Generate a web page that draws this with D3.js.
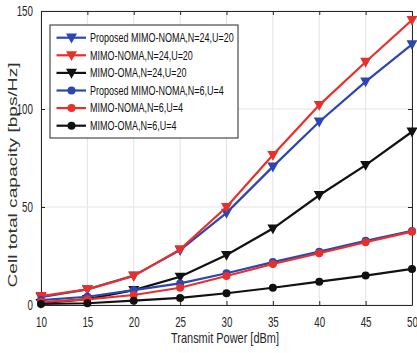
<!DOCTYPE html>
<html>
<head>
<meta charset="utf-8">
<script src="https://cdn.jsdelivr.net/npm/d3@7"></script>
<style>
  body { margin: 0; background: #fff; }
  svg { display: block; }
</style>
</head>
<body>
<div class="container"></div>
<script>
const w = 417;
const h = 353;
const margin = {left: 41, right: 5, top: 11, bottom: 48};

// data
const power = [10, 15, 20, 25, 30, 35, 40, 45, 50];
const propNoma24 = [4, 8, 15, 28, 47, 70.6, 93.5, 114, 133];
const noma24 = [4.5, 8, 14.8, 28.4, 50, 76.5, 102, 124, 145.4];
const oma24 = [1, 3, 7.6, 14.4, 25.5, 39, 56, 71.4, 88.4];
const propNoma6 = [2.5, 4.2, 7.6, 11, 16.2, 21.9, 27.2, 32.8, 37.8];
const noma6 = [1.5, 2.9, 5.1, 8.8, 14.8, 20.9, 26.4, 32, 37.4];
const oma6 = [0.5, 0.9, 2.2, 3.6, 6, 8.8, 11.9, 15, 18.4];
const xTicks = [10, 15, 20, 25, 30, 35, 40, 45, 50];
const yTicks = [0, 50, 100, 150];

const series = [
  {name: "Proposed MIMO-NOMA,N=24,U=20", values: propNoma24, color: "#2b46b4", marker: "tri"},
  {name: "MIMO-NOMA,N=24,U=20", values: noma24, color: "#e8302a", marker: "tri"},
  {name: "MIMO-OMA,N=24,U=20", values: oma24, color: "#111111", marker: "tri"},
  {name: "Proposed MIMO-NOMA,N=6,U=4", values: propNoma6, color: "#2b46b4", marker: "circle"},
  {name: "MIMO-NOMA,N=6,U=4", values: noma6, color: "#e8302a", marker: "circle"},
  {name: "MIMO-OMA,N=6,U=4", values: oma6, color: "#111111", marker: "circle"}
];

// no narrow font installed: squeeze Liberation Sans horizontally
const font = "'Liberation Sans', Arial, sans-serif";
const squeeze = 0.7;

const svg = d3.select(".container")
  .append("svg")
  .attr("width", w)
  .attr("height", h);

const xScale = d3.scaleLinear()
  .domain([10, 50])
  .range([margin.left, w - margin.right]);

const yScale = d3.scaleLinear()
  .domain([0, 150])
  .range([h - margin.bottom, margin.top]);

const x0 = margin.left, x1 = w - margin.right;
const y0 = h - margin.bottom, y1 = margin.top;

// grid
svg.append("g").selectAll("line")
  .data(xTicks)
  .enter().append("line")
  .attr("x1", d => xScale(d)).attr("x2", d => xScale(d))
  .attr("y1", y0).attr("y2", y1)
  .attr("stroke", "#e3e3e3").attr("stroke-width", 1);
svg.append("g").selectAll("line")
  .data(yTicks)
  .enter().append("line")
  .attr("x1", x0).attr("x2", x1)
  .attr("y1", d => yScale(d)).attr("y2", d => yScale(d))
  .attr("stroke", "#e3e3e3").attr("stroke-width", 1);

// axes
const xAxis = d3.axisBottom(xScale).tickValues(xTicks).tickSizeInner(-4).tickSizeOuter(0).tickPadding(12);
svg.append("g")
  .attr("id", "x-axis")
  .attr("transform", "translate(0," + y0 + ")")
  .call(xAxis);
const xTop = d3.axisTop(xScale).tickValues(xTicks).tickSizeInner(-4).tickSizeOuter(0).tickFormat("");
svg.append("g").attr("transform", "translate(0," + y1 + ")").call(xTop);

const yAxis = d3.axisLeft(yScale).tickValues(yTicks).tickSizeInner(-4).tickSizeOuter(0).tickPadding(8 / squeeze);
svg.append("g")
  .attr("id", "y-axis")
  .attr("transform", "translate(" + x0 + ",0)")
  .call(yAxis);
const yRight = d3.axisRight(yScale).tickValues(yTicks).tickSizeInner(-4).tickSizeOuter(0).tickFormat("");
svg.append("g").attr("transform", "translate(" + x1 + ",0)").call(yRight);

svg.selectAll(".domain").attr("stroke", "#262626");
svg.selectAll(".tick line").attr("stroke", "#262626");
svg.selectAll(".tick text")
  .attr("fill", "#262626")
  .attr("transform", "scale(" + squeeze + ",1)")
  .style("font-family", font)
  .style("font-size", "14px");

// lines and markers
const line = d3.line()
  .x((d, i) => xScale(power[i]))
  .y(d => yScale(d));

const triPath = s => `M${-s},${-s * 0.75}L${s},${-s * 0.75}L0,${s * 1.05}Z`;

series.forEach(s => {
  const g = svg.append("g");
  g.append("path")
    .datum(s.values)
    .attr("d", line)
    .attr("fill", "none")
    .attr("stroke", s.color)
    .attr("stroke-width", 2.2);
  if (s.marker === "tri") {
    g.selectAll("path.m")
      .data(s.values)
      .enter().append("path")
      .attr("d", triPath(5.5))
      .attr("transform", (d, i) => "translate(" + xScale(power[i]) + "," + yScale(d) + ")")
      .attr("fill", s.color);
  } else {
    g.selectAll("circle")
      .data(s.values)
      .enter().append("circle")
      .attr("cx", (d, i) => xScale(power[i]))
      .attr("cy", d => yScale(d))
      .attr("r", 4)
      .attr("fill", s.color);
  }
});

// legend
const legend = svg.append("g").attr("transform", "translate(50,25)");
legend.append("rect")
  .attr("width", 188).attr("height", 113)
  .attr("fill", "#fff").attr("stroke", "#262626").attr("stroke-width", 1);
series.forEach((s, i) => {
  const ly = 12.7 + i * 17.6;
  legend.append("line")
    .attr("x1", 6.5).attr("x2", 36)
    .attr("y1", ly).attr("y2", ly)
    .attr("stroke", s.color).attr("stroke-width", 2.2);
  if (s.marker === "tri") {
    legend.append("path")
      .attr("d", triPath(5.5))
      .attr("transform", "translate(21.5," + ly + ")")
      .attr("fill", s.color);
  } else {
    legend.append("circle")
      .attr("cx", 21.5).attr("cy", ly).attr("r", 4)
      .attr("fill", s.color);
  }
  legend.append("text")
    .attr("transform", "translate(40," + ly + ") scale(0.72,1)")
    .attr("dy", "0.35em")
    .attr("fill", "#111")
    .style("font-family", font)
    .style("font-size", "12.5px")
    .text(s.name);
});

// axis labels
svg.append("text")
  .attr("x", 225)
  .attr("y", 343)
  .attr("text-anchor", "middle")
  .attr("textLength", 108)
  .attr("lengthAdjust", "spacingAndGlyphs")
  .attr("fill", "#262626")
  .style("font-family", font)
  .style("font-size", "15px")
  .text("Transmit Power [dBm]");

svg.append("text")
  .attr("transform", "rotate(-90)")
  .attr("x", -175)
  .attr("y", 17)
  .attr("text-anchor", "middle")
  .attr("textLength", 225)
  .attr("lengthAdjust", "spacingAndGlyphs")
  .attr("fill", "#333")
  .style("font-family", font)
  .style("font-size", "13px")
  .text("Cell total capacity [bps/Hz]");
</script>
</body>
</html>
